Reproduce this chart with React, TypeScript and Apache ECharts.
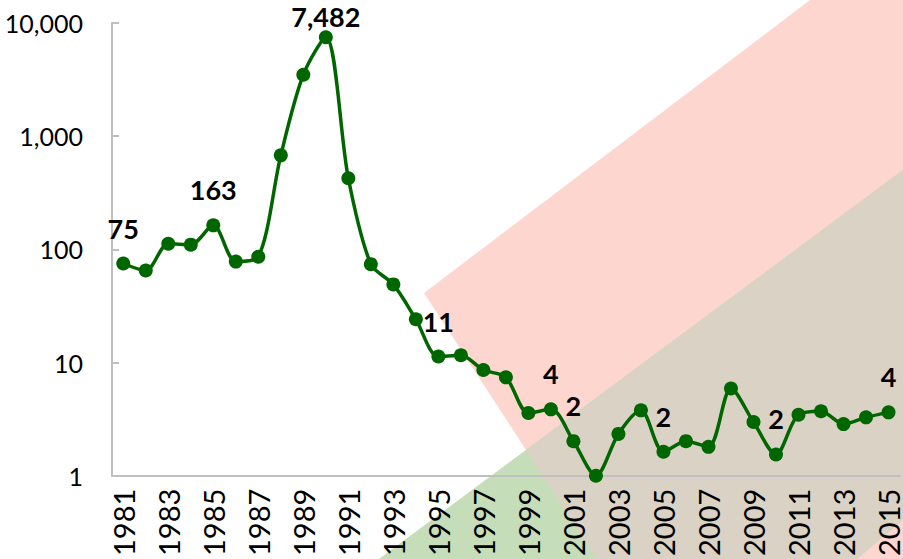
import React, { useEffect, useRef } from "react";
import * as echarts from "echarts";

const years: string[] = [
  "1981","1982","1983","1984","1985","1986","1987","1988","1989","1990",
  "1991","1992","1993","1994","1995","1996","1997","1998","1999","2000",
  "2001","2002","2003","2004","2005","2006","2007","2008","2009","2010",
  "2011","2012","2013","2014","2015",
];
const values: number[] = [
  75, 65, 112, 110, 163, 78, 86, 677, 3490, 7482,
  425, 74, 49, 24.1, 11.3, 11.6, 8.6, 7.4, 3.58, 3.86,
  2.02, 1.0, 2.34, 3.78, 1.63, 2.02, 1.8, 5.9, 2.98, 1.54,
  3.46, 3.71, 2.86, 3.28, 3.63,
];
const labelledYears: string[] = ["1981", "1985", "1990", "1995", "2000", "2001", "2005", "2010", "2015"];
const yTicks: number[] = [1, 10, 100, 1000, 10000];

const fmt = (v: number) => Math.round(v).toLocaleString("en-US");

export default function App() {
  const ref = useRef<HTMLDivElement>(null);
  useEffect(() => {
    if (!ref.current) return;
    const chart = echarts.init(ref.current, null, { renderer: "svg" });
    const maxIdx = values.indexOf(Math.max(...values));
    const data = values.map((v, i) => ({
      value: v,
      label: {
        show: labelledYears.includes(years[i]),
        distance: i === maxIdx ? 0 : 15,
      },
    }));
    chart.setOption({
      animation: false,
      backgroundColor: "#ffffff",
      graphic: [
        {
          type: "polygon",
          z: 0,
          silent: true,
          shape: { points: [[424, 293], [810, 0], [903, 0], [903, 559], [597, 559]] },
          style: { fill: "#FDD6CF" },
        },
        {
          type: "polygon",
          z: 0,
          silent: true,
          shape: { points: [[379, 559], [903, 170], [903, 520], [857, 559]] },
          style: { fill: "#C6DDB9" },
        },
        {
          type: "polygon",
          z: 0,
          silent: true,
          shape: { points: [[526, 450], [903, 170], [903, 520], [857, 559], [597, 559]] },
          style: { fill: "#DAD2C5" },
        },
      ],
      grid: { left: 112, right: 1, top: 23, bottom: 81, containLabel: false },
      xAxis: {
        type: "category",
        data: years,
        boundaryGap: true,
        axisLine: { show: true, lineStyle: { color: "#BFBFBF", width: 2 } },
        axisTick: { show: false },
        axisLabel: {
          interval: 1,
          rotate: 90,
          margin: 13,
          color: "#000000",
          fontFamily: "Lato",
          fontSize: 29,
        },
        splitLine: { show: false },
      },
      yAxis: {
        type: "log",
        logBase: 10,
        min: yTicks[0],
        max: yTicks[yTicks.length - 1],
        axisLine: { show: true, lineStyle: { color: "#BFBFBF", width: 2 } },
        axisTick: { show: true, inside: true, length: 7, lineStyle: { color: "#BFBFBF", width: 2 } },
        minorTick: { show: false },
        axisLabel: {
          margin: 29,
          color: "#000000",
          fontFamily: "Lato",
          fontSize: 25,
          formatter: (v: number) => fmt(v),
        },
        splitLine: { show: false },
      },
      series: [
        {
          type: "line",
          data,
          smooth: 0.3,
          symbol: "circle",
          symbolSize: 14,
          z: 5,
          itemStyle: { color: "#006600" },
          lineStyle: { color: "#006600", width: 3.5 },
          label: {
            position: "top",
            color: "#000000",
            fontFamily: "Lato",
            fontWeight: "bold",
            fontSize: 27,
            formatter: (p: any) => fmt(p.value),
          },
        },
      ],
    });
    return () => chart.dispose();
  }, []);
  return <div ref={ref} style={{ width: 903, height: 559, position: "absolute", left: 0, top: 0 }} />;
}
